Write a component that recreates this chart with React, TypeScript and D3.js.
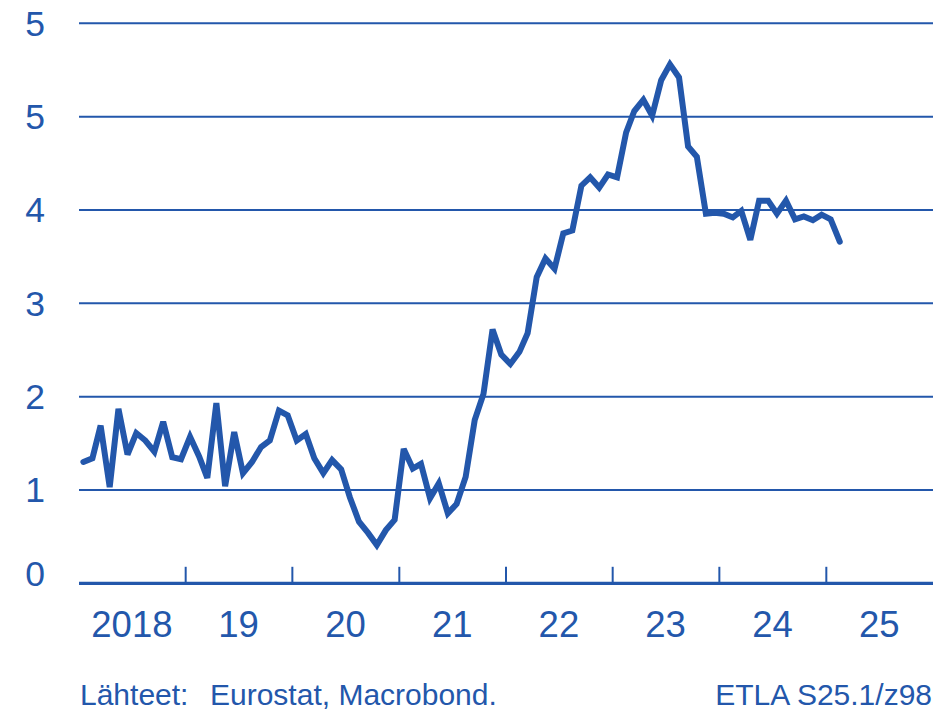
import React from "react";
import * as d3 from "d3";

// Monthly values, Jan 2018 – Feb 2025
const startYear = 2018;
const values: number[] = [
  // 2018
  1.30, 1.34, 1.69, 1.03, 1.87, 1.38, 1.61, 1.53, 1.41, 1.73, 1.35, 1.33,
  // 2019
  1.57, 1.36, 1.13, 1.93, 1.04, 1.62, 1.18, 1.30, 1.46, 1.53, 1.85, 1.80,
  // 2020
  1.53, 1.60, 1.34, 1.18, 1.32, 1.22, 0.92, 0.66, 0.54, 0.41, 0.57, 0.68,
  // 2021
  1.44, 1.23, 1.28, 0.91, 1.07, 0.75, 0.85, 1.14, 1.75, 2.03, 2.72, 2.45,
  // 2022
  2.35, 2.48, 2.68, 3.28, 3.48, 3.37, 3.75, 3.78, 4.26, 4.35, 4.24, 4.38,
  // 2023
  4.35, 4.83, 5.06, 5.18, 5.01, 5.39, 5.56, 5.42, 4.68, 4.57, 3.96, 3.97,
  // 2024
  3.96, 3.92, 3.99, 3.68, 4.10, 4.10, 3.96, 4.10, 3.90, 3.93, 3.89, 3.95,
  // 2025
  3.90, 3.66,
];

const yTickValues = [0, 1, 2, 3, 4, 5, 6];
const yTickLabels = ["0", "1", "2", "3", "4", "5", "5"];
const xYears = [2018, 2019, 2020, 2021, 2022, 2023, 2024, 2025];
const xYearLabels = ["2018", "19", "20", "21", "22", "23", "24", "25"];
const sourceLabel = "Lähteet:";
const sourceText = "Eurostat, Macrobond.";
const codeText = "ETLA S25.1/z98";

const W = 937;
const H = 710;
const BLUE = "#2357ab";
const FONT = "'Liberation Sans', Arial, sans-serif";

export default function App() {
  const left = 79;
  const right = 933;
  const top = 23.3;
  const bottom = 583.3;

  const x = d3
    .scaleTime()
    .domain([new Date(2018, 0, 1), new Date(2026, 0, 1)])
    .range([left, right]);
  const y = d3.scaleLinear().domain([0, 6]).range([bottom, top]);

  const data = values.map((v, i) => ({
    date: new Date(startYear, i, 16),
    v,
  }));

  const line = d3
    .line<{ date: Date; v: number }>()
    .x((d) => x(d.date))
    .y((d) => y(d.v))
    .curve(d3.curveLinear);

  return (
    <svg
      width={W}
      height={H}
      style={{ position: "absolute", left: 0, top: 0, background: "#fff" }}
    >
      {/* gridlines */}
      {yTickValues
        .filter((t) => t > 0)
        .map((t) => (
          <line
            key={"g" + t}
            x1={left}
            x2={right}
            y1={y(t)}
            y2={y(t)}
            stroke={BLUE}
            strokeWidth={2}
          />
        ))}
      {/* y labels */}
      {yTickValues.map((t, i) => (
        <text
          key={"yl" + t}
          x={35}
          y={y(t) + (t === 0 ? 2.5 : 12.5)}
          textAnchor="middle"
          fontFamily={FONT}
          fontSize={35.5}
          fill={BLUE}
        >
          {yTickLabels[i]}
        </text>
      ))}
      {/* x axis */}
      <line
        x1={left}
        x2={right}
        y1={bottom}
        y2={bottom}
        stroke={BLUE}
        strokeWidth={3.3}
      />
      {xYears.slice(1).map((yr) => (
        <line
          key={"t" + yr}
          x1={x(new Date(yr, 0, 1))}
          x2={x(new Date(yr, 0, 1))}
          y1={bottom}
          y2={bottom - 16.5}
          stroke={BLUE}
          strokeWidth={2}
        />
      ))}
      {xYears.map((yr, i) => (
        <text
          key={"xl" + yr}
          x={x(new Date(yr, 6, 1))}
          y={636.5}
          textAnchor="middle"
          fontFamily={FONT}
          fontSize={36.5}
          fill={BLUE}
        >
          {xYearLabels[i]}
        </text>
      ))}
      {/* data line */}
      <path
        d={line(data) || ""}
        fill="none"
        stroke={BLUE}
        strokeWidth={6}
        strokeLinejoin="miter"
        strokeMiterlimit={3}
        strokeLinecap="round"
      />
      {/* footer */}
      <text x={80} y={705} fontFamily={FONT} fontSize={30} fill={BLUE}>
        {sourceLabel}
      </text>
      <text x={210} y={705} fontFamily={FONT} fontSize={30} fill={BLUE}>
        {sourceText}
      </text>
      <text
        x={932}
        y={705}
        textAnchor="end"
        fontFamily={FONT}
        fontSize={30}
        fill={BLUE}
      >
        {codeText}
      </text>
    </svg>
  );
}
